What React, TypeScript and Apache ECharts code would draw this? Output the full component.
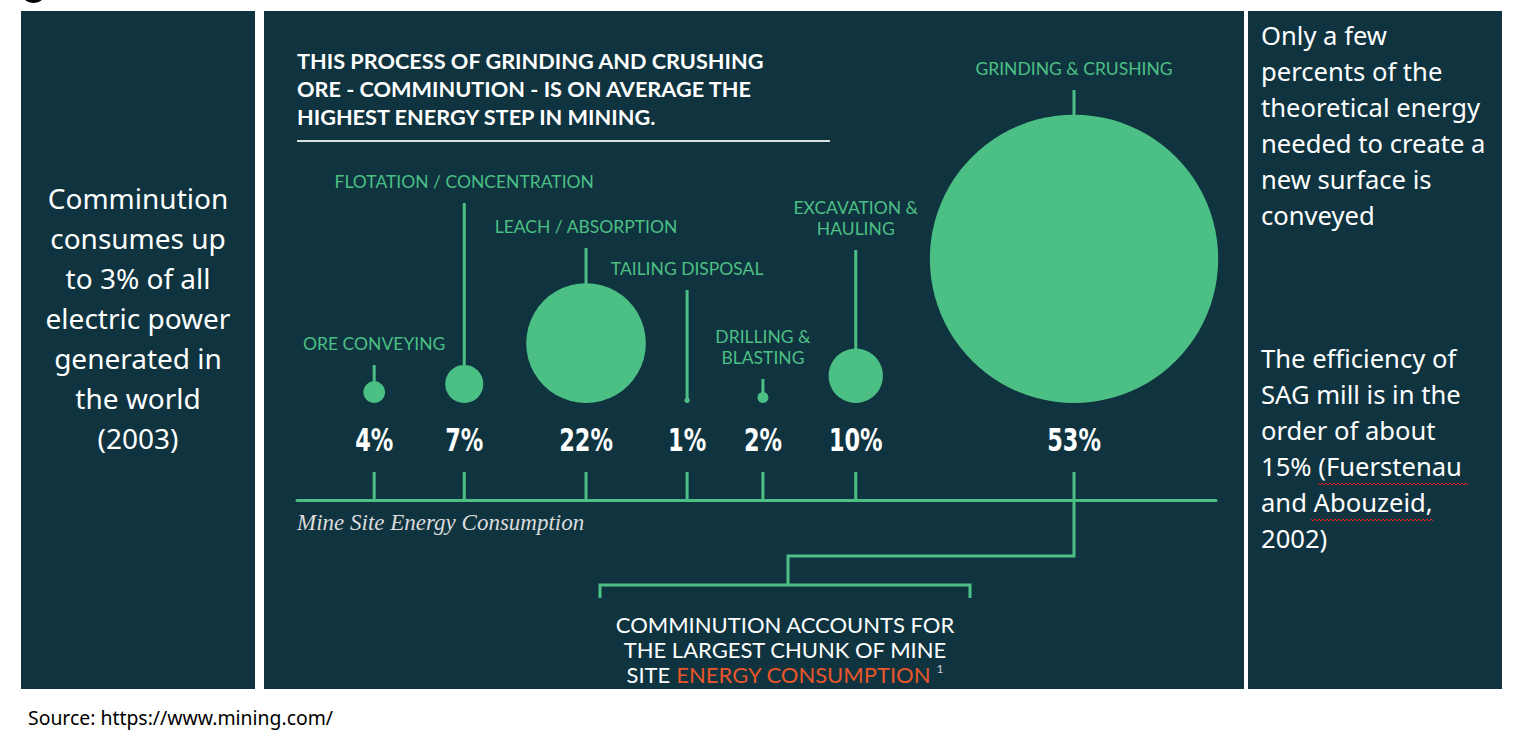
import React, { useEffect, useRef } from 'react';
import * as echarts from 'echarts';

// Mine site energy consumption by stage (share of total, %)
const stages = [
  'ORE CONVEYING',
  'FLOTATION / CONCENTRATION',
  'LEACH / ABSORPTION',
  'TAILING DISPOSAL',
  'DRILLING &\nBLASTING',
  'EXCAVATION &\nHAULING',
  'GRINDING & CRUSHING',
];
const shares = [4, 7, 22, 1, 2, 10, 53];
// position of each stage along the timeline (0-100)
const positions = [8.4, 18.2, 31.45, 42.45, 50.7, 60.8, 84.55];
// height of each stage's label stem (axis units above the line)
const labelHeights = [135, 297, 252, 210, 121, 250, 410];

const GREEN = '#4cbf84';
const PANEL = '#0f3440';
const ORANGE = '#e8562a';
const R_PER_PCT = 2.72; // circle radius (px) per percentage point
const CIRCLE_BASE = 97;
const TICK_TOP = 28;
const PCT_Y = 60;

function zigzag(x0: number, x1: number, y: number) {
  const pts: number[][] = [];
  let up = true;
  for (let x = x0; x <= x1; x += 2) {
    pts.push([x, up ? y - 1 : y + 1]);
    up = !up;
  }
  return pts;
}

export default function App() {
  const ref = useRef<HTMLDivElement>(null);
  useEffect(() => {
    if (!ref.current) return;
    const chart = echarts.init(ref.current, undefined, { renderer: 'svg' });
    const option: any = {
      animation: false,
      backgroundColor: '#ffffff',
      grid: { left: 297, right: 302, top: 40, bottom: 237 },
      xAxis: {
        type: 'value',
        min: 0,
        max: 100,
        axisLine: { show: true, onZero: false, lineStyle: { color: GREEN, width: 3 } },
        axisTick: { show: false },
        axisLabel: { show: false },
        splitLine: { show: false },
      },
      yAxis: {
        type: 'value',
        min: 0,
        max: 460,
        show: false,
        splitLine: { show: false },
      },
      series: [
        {
          type: 'custom',
          silent: true,
          z: 3,
          encode: { x: 0, y: 2 },
          data: positions.map((p, i) => [p, shares[i], labelHeights[i]]),
          renderItem: (params: any, api: any) => {
            const x = api.value(0);
            const share = api.value(1);
            const h = api.value(2);
            const base = api.coord([x, 0]);
            const tickTop = api.coord([x, TICK_TOP]);
            const pct = api.coord([x, PCT_Y]);
            const cb = api.coord([x, CIRCLE_BASE]);
            const circleTop = cb[1] - 2 * R_PER_PCT * share;
            const stemTop = api.coord([x, h]);
            return {
              type: 'group',
              children: [
                {
                  type: 'line',
                  shape: { x1: base[0], y1: base[1], x2: tickTop[0], y2: tickTop[1] },
                  style: { stroke: GREEN, lineWidth: 3 },
                },
                {
                  type: 'text',
                  x: pct[0],
                  y: pct[1],
                  scaleX: 0.78,
                  style: {
                    text: share + '%',
                    fill: '#ffffff',
                    font: 'bold 32px "DejaVu Sans Condensed", sans-serif',
                    align: 'center',
                    verticalAlign: 'middle',
                  },
                },
                {
                  type: 'line',
                  shape: { x1: stemTop[0], y1: stemTop[1], x2: stemTop[0], y2: circleTop + 1 },
                  style: { stroke: GREEN, lineWidth: 3 },
                },
                {
                  type: 'text',
                  x: stemTop[0],
                  y: stemTop[1] - 11,
                  style: {
                    text: stages[params.dataIndex],
                    fill: GREEN,
                    font: '17.5px Lato, sans-serif',
                    lineHeight: 21,
                    align: 'center',
                    verticalAlign: 'bottom',
                  },
                },
              ],
            };
          },
        },
        {
          type: 'scatter',
          silent: true,
          z: 4,
          data: positions.map((p, i) => [p, CIRCLE_BASE, shares[i]]),
          symbolSize: (v: number[]) => v[2] * 2 * R_PER_PCT,
          symbolOffset: [0, '-50%'],
          itemStyle: { color: GREEN, opacity: 1 },
        },
      ],
      graphic: [
        { type: 'circle', shape: { cx: 33.5, cy: -10, r: 13 }, style: { fill: '#000' }, z: -1 },
        { type: 'rect', shape: { x: 21, y: 11, width: 234, height: 678 }, style: { fill: PANEL }, z: -10 },
        { type: 'rect', shape: { x: 264, y: 11, width: 980, height: 678 }, style: { fill: PANEL }, z: -10 },
        { type: 'rect', shape: { x: 1248, y: 11, width: 254, height: 678 }, style: { fill: PANEL }, z: -10 },
        {
          type: 'text',
          x: 138,
          y: 178,
          style: {
            text: 'Comminution\nconsumes up\nto 3% of all\nelectric power\ngenerated in\nthe world\n(2003)',
            fill: '#ffffff',
            font: '28px "Noto Sans", sans-serif',
            lineHeight: 40,
            align: 'center',
            verticalAlign: 'top',
          },
        },
        {
          type: 'text',
          x: 297,
          y: 47,
          style: {
            text: 'THIS PROCESS OF GRINDING AND CRUSHING\nORE - COMMINUTION - IS ON AVERAGE THE\nHIGHEST ENERGY STEP IN MINING.',
            fill: '#ffffff',
            font: 'bold 21.7px Lato, sans-serif',
            lineHeight: 28,
            align: 'left',
            verticalAlign: 'top',
          },
        },
        { type: 'line', shape: { x1: 297, y1: 141, x2: 830, y2: 141 }, style: { stroke: '#d5e3e0', lineWidth: 2 } },
        {
          type: 'text',
          x: 297,
          y: 522,
          style: {
            text: 'Mine Site Energy Consumption',
            fill: '#dcdcdc',
            font: 'italic 23px "Liberation Serif", serif',
            align: 'left',
            verticalAlign: 'middle',
          },
        },
        {
          type: 'polyline',
          shape: { points: [[1074, 500], [1074, 556], [788, 556], [788, 585]] },
          style: { stroke: GREEN, lineWidth: 3, fill: 'none' },
        },
        {
          type: 'polyline',
          shape: { points: [[600, 598], [600, 585], [970, 585], [970, 598]] },
          style: { stroke: GREEN, lineWidth: 3, fill: 'none' },
        },
        {
          type: 'text',
          x: 785,
          y: 612,
          style: {
            text: 'COMMINUTION ACCOUNTS FOR\nTHE LARGEST CHUNK OF MINE\nSITE {o|ENERGY CONSUMPTION} {s|1}',
            fill: '#ffffff',
            font: '22px Lato, sans-serif',
            lineHeight: 25,
            align: 'center',
            verticalAlign: 'top',
            rich: {
              o: { fill: ORANGE, font: '22px Lato, sans-serif', lineHeight: 25 },
              s: { fill: '#cccccc', font: '12px Lato, sans-serif', lineHeight: 25, verticalAlign: 'top', padding: [0, 0, 10, 0] },
            },
          },
        },
        {
          type: 'text',
          x: 1261,
          y: 17,
          style: {
            text: 'Only a few\npercents of the\ntheoretical energy\nneeded to create a\nnew surface is\nconveyed',
            fill: '#ffffff',
            font: '25.6px "Noto Sans", sans-serif',
            lineHeight: 36,
            align: 'left',
            verticalAlign: 'top',
          },
        },
        {
          type: 'text',
          x: 1261,
          y: 340,
          style: {
            text: 'The efficiency of\nSAG mill is in the\norder of about\n15% (Fuerstenau\nand Abouzeid,\n2002)',
            fill: '#ffffff',
            font: '25.6px "Noto Sans", sans-serif',
            lineHeight: 36,
            align: 'left',
            verticalAlign: 'top',
          },
        },
        { type: 'polyline', shape: { points: zigzag(1318, 1468, 484) }, style: { stroke: '#e02020', lineWidth: 1, fill: 'none' } },
        { type: 'polyline', shape: { points: zigzag(1311, 1434, 520) }, style: { stroke: '#e02020', lineWidth: 1, fill: 'none' } },
        {
          type: 'text',
          x: 28,
          y: 717,
          style: {
            text: 'Source: https://www.mining.com/',
            fill: '#000000',
            font: '19.4px "Noto Sans", sans-serif',
            align: 'left',
            verticalAlign: 'middle',
          },
        },
      ],
    };
    chart.setOption(option);
    return () => chart.dispose();
  }, []);
  return <div ref={ref} style={{ position: 'fixed', left: 0, top: 0, width: 1518, height: 737 }} />;
}
